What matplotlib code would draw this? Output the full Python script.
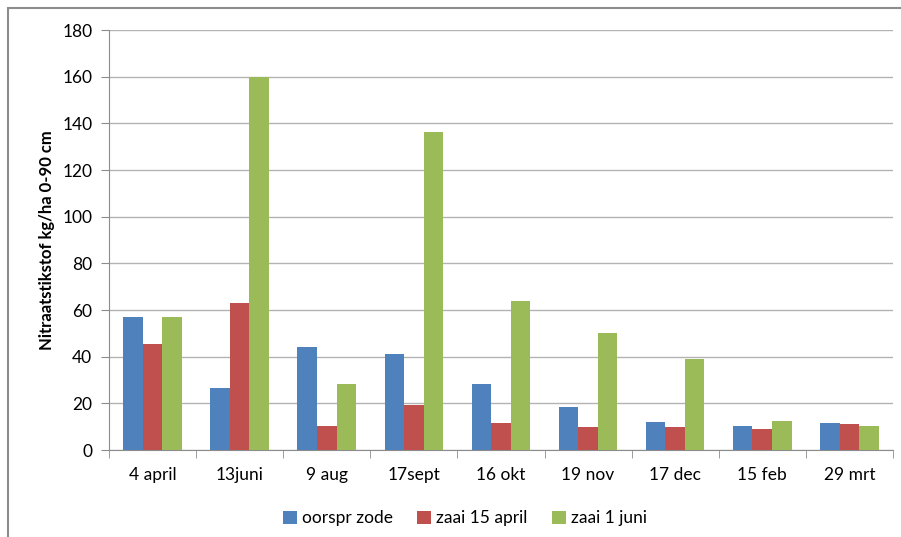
import numpy as np
import matplotlib.pyplot as plt
from matplotlib.patches import Rectangle

dates = ['4 april', '13juni', '9 aug', '17sept', '16 okt', '19 nov', '17 dec', '15 feb', '29 mrt']
oorspr_zode = [57, 26.5, 44, 41, 28.5, 18.5, 12, 10.5, 11.5]
zaai_15_april = [45.5, 63, 10.5, 19.5, 11.5, 10, 10, 9, 11]
zaai_1_juni = [57, 160, 28.5, 136.5, 64, 50, 39, 12.5, 10.5]

series = [('oorspr zode', oorspr_zode, '#4F81BD'),
          ('zaai 15 april', zaai_15_april, '#C0504D'),
          ('zaai 1 juni', zaai_1_juni, '#9BBB59')]

plt.rcParams['font.family'] = ['Lato', 'DejaVu Sans']

fig = plt.figure(figsize=(9.01, 5.37), dpi=100)
ax = fig.add_axes([0.121, 0.162, 0.870, 0.782])

# outer chart frame, running off the right and bottom edges
fig.patches.append(Rectangle((8 / 901, -0.1), 1.2, 1 - 8 / 537 + 0.1,
                             transform=fig.transFigure, fill=False,
                             edgecolor='#8c8c8c', linewidth=1.5))

x = np.arange(len(dates))
w = 0.224
for i, (name, vals, col) in enumerate(series):
    ax.bar(x + (i - 1) * w, vals, w, color=col, label=name, zorder=3)

ax.set_xlim(-0.5, len(dates) - 0.5)
ax.set_ylim(0, 180)
ax.set_yticks(range(0, 181, 20))
ax.yaxis.grid(True, color='#b3b3b3', linewidth=1)
ax.set_axisbelow(True)

ax.set_xticks(x)
ax.set_xticklabels(dates, fontsize=12.5)
ax.set_xticks(np.arange(-0.5, len(dates), 1), minor=True)
ax.tick_params(axis='x', which='major', length=0, pad=12)
ax.tick_params(axis='x', which='minor', length=6, color='#8c8c8c', direction='out')
ax.tick_params(axis='y', length=6, color='#8c8c8c', labelsize=12.5, pad=6)

for s in ['top', 'right']:
    ax.spines[s].set_visible(False)
for s in ['left', 'bottom']:
    ax.spines[s].set_color('#8c8c8c')

ax.set_ylabel('Nitraatstikstof kg/ha 0-90 cm', fontsize=12, fontweight='bold', labelpad=5)

fig.legend(loc='center', bbox_to_anchor=(0.516, 0.035), ncol=3, frameon=False,
           fontsize=12.5, handlelength=0.8, handleheight=0.8, handletextpad=0.3,
           columnspacing=1.4)

fig.savefig('out.png', dpi=100)
